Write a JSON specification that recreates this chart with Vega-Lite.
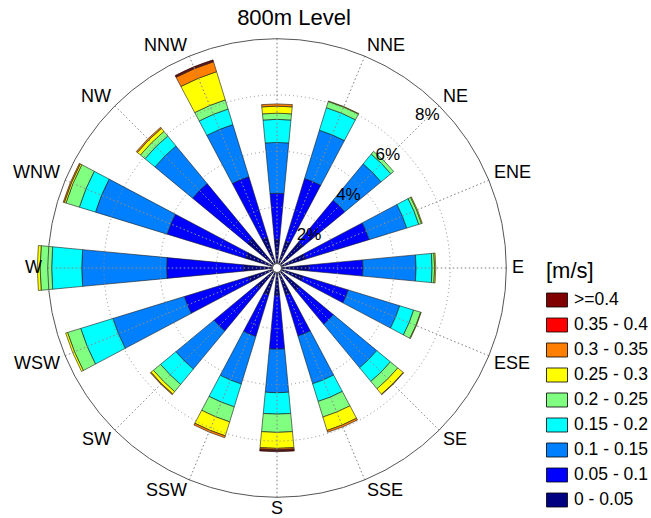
{
  "$schema": "https://vega.github.io/schema/vega-lite/v6.json",
  "width": 554,
  "height": 500,
  "autosize": {"type": "none"},
  "padding": {"left": 0, "top": 18, "right": 97, "bottom": 0},
  "config": {
    "font": "Liberation Sans",
    "view": {"stroke": null},
    "text": {"font": "Liberation Sans", "color": "black"}
  },
  "title": {"text": "800m Level", "fontSize": 22, "fontWeight": "normal", "font": "Liberation Sans", "color": "black", "frame": "group", "anchor": "middle", "offset": -12, "dx": 17},
  "datasets": {
    "wind": [
      {"d":"N","a":0,"b":"0 - 0.05","p":0.84},{"d":"N","a":0,"b":"0.05 - 0.1","p":1.66},{"d":"N","a":0,"b":"0.1 - 0.15","p":1.81},{"d":"N","a":0,"b":"0.15 - 0.2","p":0.82},{"d":"N","a":0,"b":"0.2 - 0.25","p":0.22},{"d":"N","a":0,"b":"0.25 - 0.3","p":0.25},{"d":"N","a":0,"b":"0.3 - 0.35","p":0.08},
      {"d":"NNE","a":22.5,"b":"0 - 0.05","p":0.84},{"d":"NNE","a":22.5,"b":"0.05 - 0.1","p":2.33},{"d":"NNE","a":22.5,"b":"0.1 - 0.15","p":1.80},{"d":"NNE","a":22.5,"b":"0.15 - 0.2","p":0.84},{"d":"NNE","a":22.5,"b":"0.2 - 0.25","p":0.23},{"d":"NNE","a":22.5,"b":"0.25 - 0.3","p":0.02},
      {"d":"NE","a":45,"b":"0 - 0.05","p":1.04},{"d":"NE","a":45,"b":"0.05 - 0.1","p":1.93},{"d":"NE","a":45,"b":"0.1 - 0.15","p":1.68},{"d":"NE","a":45,"b":"0.15 - 0.2","p":0.45},{"d":"NE","a":45,"b":"0.2 - 0.25","p":0.13},
      {"d":"ENE","a":67.5,"b":"0 - 0.05","p":0.90},{"d":"ENE","a":67.5,"b":"0.05 - 0.1","p":2.37},{"d":"ENE","a":67.5,"b":"0.1 - 0.15","p":1.40},{"d":"ENE","a":67.5,"b":"0.15 - 0.2","p":0.45},{"d":"ENE","a":67.5,"b":"0.2 - 0.25","p":0.10},{"d":"ENE","a":67.5,"b":"0.25 - 0.3","p":0.03},
      {"d":"E","a":90,"b":"0 - 0.05","p":0.97},{"d":"E","a":90,"b":"0.05 - 0.1","p":1.93},{"d":"E","a":90,"b":"0.1 - 0.15","p":1.89},{"d":"E","a":90,"b":"0.15 - 0.2","p":0.57},{"d":"E","a":90,"b":"0.2 - 0.25","p":0.09},{"d":"E","a":90,"b":"0.25 - 0.3","p":0.04},
      {"d":"ESE","a":112.5,"b":"0 - 0.05","p":0.79},{"d":"ESE","a":112.5,"b":"0.05 - 0.1","p":1.70},{"d":"ESE","a":112.5,"b":"0.1 - 0.15","p":1.92},{"d":"ESE","a":112.5,"b":"0.15 - 0.2","p":0.52},{"d":"ESE","a":112.5,"b":"0.2 - 0.25","p":0.26},{"d":"ESE","a":112.5,"b":"0.25 - 0.3","p":0.02},
      {"d":"SE","a":135,"b":"0 - 0.05","p":0.89},{"d":"SE","a":135,"b":"0.05 - 0.1","p":1.55},{"d":"SE","a":135,"b":"0.1 - 0.15","p":2.01},{"d":"SE","a":135,"b":"0.15 - 0.2","p":0.63},{"d":"SE","a":135,"b":"0.2 - 0.25","p":0.34},{"d":"SE","a":135,"b":"0.25 - 0.3","p":0.25},{"d":"SE","a":135,"b":"0.3 - 0.35","p":0.02},
      {"d":"SSE","a":157.5,"b":"0 - 0.05","p":0.84},{"d":"SSE","a":157.5,"b":"0.05 - 0.1","p":1.53},{"d":"SSE","a":157.5,"b":"0.1 - 0.15","p":1.78},{"d":"SSE","a":157.5,"b":"0.15 - 0.2","p":0.66},{"d":"SSE","a":157.5,"b":"0.2 - 0.25","p":0.58},{"d":"SSE","a":157.5,"b":"0.25 - 0.3","p":0.50},{"d":"SSE","a":157.5,"b":"0.3 - 0.35","p":0.07},
      {"d":"S","a":180,"b":"0 - 0.05","p":0.80},{"d":"S","a":180,"b":"0.05 - 0.1","p":1.93},{"d":"S","a":180,"b":"0.1 - 0.15","p":1.55},{"d":"S","a":180,"b":"0.15 - 0.2","p":0.76},{"d":"S","a":180,"b":"0.2 - 0.25","p":0.65},{"d":"S","a":180,"b":"0.25 - 0.3","p":0.57},{"d":"S","a":180,"b":"0.3 - 0.35","p":0.05},{"d":"S","a":180,"b":"0.35 - 0.4","p":0.03},{"d":"S","a":180,"b":">=0.4","p":0.04},
      {"d":"SSW","a":202.5,"b":"0 - 0.05","p":0.84},{"d":"SSW","a":202.5,"b":"0.05 - 0.1","p":1.55},{"d":"SSW","a":202.5,"b":"0.1 - 0.15","p":1.77},{"d":"SSW","a":202.5,"b":"0.15 - 0.2","p":0.85},{"d":"SSW","a":202.5,"b":"0.2 - 0.25","p":0.56},{"d":"SSW","a":202.5,"b":"0.25 - 0.3","p":0.52},{"d":"SSW","a":202.5,"b":"0.3 - 0.35","p":0.07},
      {"d":"SW","a":225,"b":"0 - 0.05","p":0.78},{"d":"SW","a":225,"b":"0.05 - 0.1","p":1.97},{"d":"SW","a":225,"b":"0.1 - 0.15","p":1.76},{"d":"SW","a":225,"b":"0.15 - 0.2","p":0.71},{"d":"SW","a":225,"b":"0.2 - 0.25","p":0.33},{"d":"SW","a":225,"b":"0.25 - 0.3","p":0.11},{"d":"SW","a":225,"b":"0.3 - 0.35","p":0.03},
      {"d":"WSW","a":247.5,"b":"0 - 0.05","p":0.90},{"d":"WSW","a":247.5,"b":"0.05 - 0.1","p":2.39},{"d":"WSW","a":247.5,"b":"0.1 - 0.15","p":2.66},{"d":"WSW","a":247.5,"b":"0.15 - 0.2","p":1.20},{"d":"WSW","a":247.5,"b":"0.2 - 0.25","p":0.49},{"d":"WSW","a":247.5,"b":"0.25 - 0.3","p":0.07},
      {"d":"W","a":270,"b":"0 - 0.05","p":1.04},{"d":"W","a":270,"b":"0.05 - 0.1","p":2.73},{"d":"W","a":270,"b":"0.1 - 0.15","p":3.02},{"d":"W","a":270,"b":"0.15 - 0.2","p":1.07},{"d":"W","a":270,"b":"0.2 - 0.25","p":0.41},{"d":"W","a":270,"b":"0.25 - 0.3","p":0.10},
      {"d":"WNW","a":292.5,"b":"0 - 0.05","p":1.00},{"d":"WNW","a":292.5,"b":"0.05 - 0.1","p":2.93},{"d":"WNW","a":292.5,"b":"0.1 - 0.15","p":2.67},{"d":"WNW","a":292.5,"b":"0.15 - 0.2","p":0.60},{"d":"WNW","a":292.5,"b":"0.2 - 0.25","p":0.50},{"d":"WNW","a":292.5,"b":"0.25 - 0.3","p":0.06},{"d":"WNW","a":292.5,"b":"0.3 - 0.35","p":0.04},
      {"d":"NW","a":315,"b":"0 - 0.05","p":1.20},{"d":"NW","a":315,"b":"0.05 - 0.1","p":2.54},{"d":"NW","a":315,"b":"0.1 - 0.15","p":1.74},{"d":"NW","a":315,"b":"0.15 - 0.2","p":0.46},{"d":"NW","a":315,"b":"0.2 - 0.25","p":0.21},{"d":"NW","a":315,"b":"0.25 - 0.3","p":0.14},{"d":"NW","a":315,"b":"0.3 - 0.35","p":0.05},
      {"d":"NNW","a":337.5,"b":"0 - 0.05","p":0.97},{"d":"NNW","a":337.5,"b":"0.05 - 0.1","p":2.27},{"d":"NNW","a":337.5,"b":"0.1 - 0.15","p":1.94},{"d":"NNW","a":337.5,"b":"0.15 - 0.2","p":0.58},{"d":"NNW","a":337.5,"b":"0.2 - 0.25","p":0.34},{"d":"NNW","a":337.5,"b":"0.25 - 0.3","p":1.05},{"d":"NNW","a":337.5,"b":"0.3 - 0.35","p":0.37},{"d":"NNW","a":337.5,"b":"0.35 - 0.4","p":0.03},{"d":"NNW","a":337.5,"b":">=0.4","p":0.04}
    ],
    "dirs": [
      {"d":"N","a":0},{"d":"NNE","a":22.5},{"d":"NE","a":45},{"d":"ENE","a":67.5},{"d":"E","a":90},{"d":"ESE","a":112.5},{"d":"SE","a":135},{"d":"SSE","a":157.5},
      {"d":"S","a":180},{"d":"SSW","a":202.5},{"d":"SW","a":225},{"d":"WSW","a":247.5},{"d":"W","a":270},{"d":"WNW","a":292.5},{"d":"NW","a":315},{"d":"NNW","a":337.5}
    ],
    "labels": [
      {"d":"NNE","a":22.5},{"d":"NE","a":45},{"d":"ENE","a":67.5},{"d":"E","a":90},{"d":"ESE","a":112.5},{"d":"SE","a":135},{"d":"SSE","a":157.5},
      {"d":"S","a":180},{"d":"SSW","a":202.5},{"d":"SW","a":225},{"d":"WSW","a":247.5},{"d":"W","a":270},{"d":"WNW","a":292.5},{"d":"NW","a":315},{"d":"NNW","a":337.5}
    ],
    "rings": [{"g":2,"t":"2%"},{"g":4,"t":"4%"},{"g":6,"t":"6%"},{"g":8,"t":"8%"}]
  },
  "layer": [
    {
      "data": {"name": "wind"},
      "transform": [
        {"stack": "p", "groupby": ["d"], "sort": [{"field": "b", "order": "ascending"}], "as": ["r0", "r1"]}
      ],
      "mark": {"type": "arc", "stroke": "#1a1a1a", "strokeWidth": 0.6, "thetaOffset": -0.0942, "theta2Offset": 0.0942},
      "encoding": {
        "theta": {"field": "a", "type": "quantitative", "stack": null, "scale": {"type": "linear", "domain": [0, 360], "range": [0, 6.283185307]}},
        "theta2": {"field": "a"},
        "radius": {"field": "r1", "type": "quantitative", "stack": null, "scale": {"type": "linear", "domain": [0, 8], "range": [4.5, 229.3], "zero": false, "nice": false}},
        "radius2": {"field": "r0"},
        "color": {
          "field": "b", "type": "nominal",
          "scale": {
            "domain": [">=0.4", "0.35 - 0.4", "0.3 - 0.35", "0.25 - 0.3", "0.2 - 0.25", "0.15 - 0.2", "0.1 - 0.15", "0.05 - 0.1", "0 - 0.05"],
            "range": ["#800000", "#ff0000", "#ff8000", "#ffff00", "#80ff80", "#00ffff", "#0080ff", "#0000ff", "#000080"]
          },
          "legend": {
            "title": "[m/s]", "orient": "none", "legendX": 546, "legendY": 243,
            "titleFontSize": 22, "titleFont": "Liberation Sans", "titleFontWeight": "normal", "titleColor": "black", "titlePadding": 6,
            "labelFontSize": 17.5, "labelFont": "Liberation Sans", "labelColor": "black", "labelOffset": 6,
            "symbolType": "M-1,-0.667L1,-0.667L1,0.667L-1,0.667Z", "symbolSize": 441,
            "symbolStrokeColor": "black", "symbolStrokeWidth": 0.8, "symbolOpacity": 1, "rowPadding": 5
          }
        }
      }
    },
    {
      "data": {"name": "rings"},
      "transform": [{"filter": "datum.g < 8"}],
      "mark": {"type": "arc", "theta": 0, "theta2": 6.2832, "filled": false, "stroke": "#8c8c8c", "strokeWidth": 1, "strokeDash": [1, 3]},
      "encoding": {
        "radius": {"field": "g", "type": "quantitative", "stack": null, "scale": {"type": "linear", "domain": [0, 8], "range": [4.5, 229.3], "zero": false, "nice": false}}
      }
    },
    {
      "data": {"name": "dirs"},
      "mark": {"type": "arc", "filled": false, "stroke": "#8c8c8c", "strokeWidth": 1, "strokeDash": [1, 3]},
      "encoding": {
        "theta": {"field": "a", "type": "quantitative", "stack": null, "scale": {"type": "linear", "domain": [0, 360], "range": [0, 6.283185307]}},
        "theta2": {"field": "a"},
        "radius": {"datum": 8, "type": "quantitative", "scale": {"type": "linear", "domain": [0, 8], "range": [4.5, 229.3], "zero": false, "nice": false}},
        "radius2": {"datum": 0}
      }
    },
    {
      "data": {"name": "rings"},
      "transform": [{"filter": "datum.g == 8"}],
      "mark": {"type": "arc", "theta": 0, "theta2": 6.2832, "filled": false, "stroke": "#555555", "strokeWidth": 1},
      "encoding": {
        "radius": {"field": "g", "type": "quantitative", "stack": null, "scale": {"type": "linear", "domain": [0, 8], "range": [4.5, 229.3], "zero": false, "nice": false}}
      }
    },
    {
      "data": {"name": "labels"},
      "mark": {
        "type": "text", "fontSize": 18, "font": "Liberation Sans", "color": "black",
        "align": {"expr": "datum.a == 180 ? 'center' : (datum.a < 180 ? 'left' : 'right')"},
        "baseline": {"expr": "(datum.a == 90 || datum.a == 270) ? 'middle' : ((datum.a < 90 || datum.a > 270) ? 'alphabetic' : 'top')"},
        "dy": {"expr": "(datum.a > 90 && datum.a < 270) ? -3 : 0"}
      },
      "encoding": {
        "theta": {"field": "a", "type": "quantitative", "stack": null, "scale": {"type": "linear", "domain": [0, 360], "range": [0, 6.283185307]}},
        "radius": {"datum": 8.2, "type": "quantitative", "scale": {"type": "linear", "domain": [0, 8], "range": [4.5, 229.3], "zero": false, "nice": false}},
        "text": {"field": "d"}
      }
    },
    {
      "data": {"name": "rings"},
      "mark": {"type": "text", "fontSize": 17, "font": "Liberation Sans", "color": "black", "align": "center", "baseline": "middle", "radiusOffset": -15},
      "encoding": {
        "theta": {"datum": 44.5, "type": "quantitative", "scale": {"type": "linear", "domain": [0, 360], "range": [0, 6.283185307]}},
        "radius": {"field": "g", "type": "quantitative", "stack": null, "scale": {"type": "linear", "domain": [0, 8], "range": [4.5, 229.3], "zero": false, "nice": false}},
        "text": {"field": "t"}
      }
    }
  ]
}
